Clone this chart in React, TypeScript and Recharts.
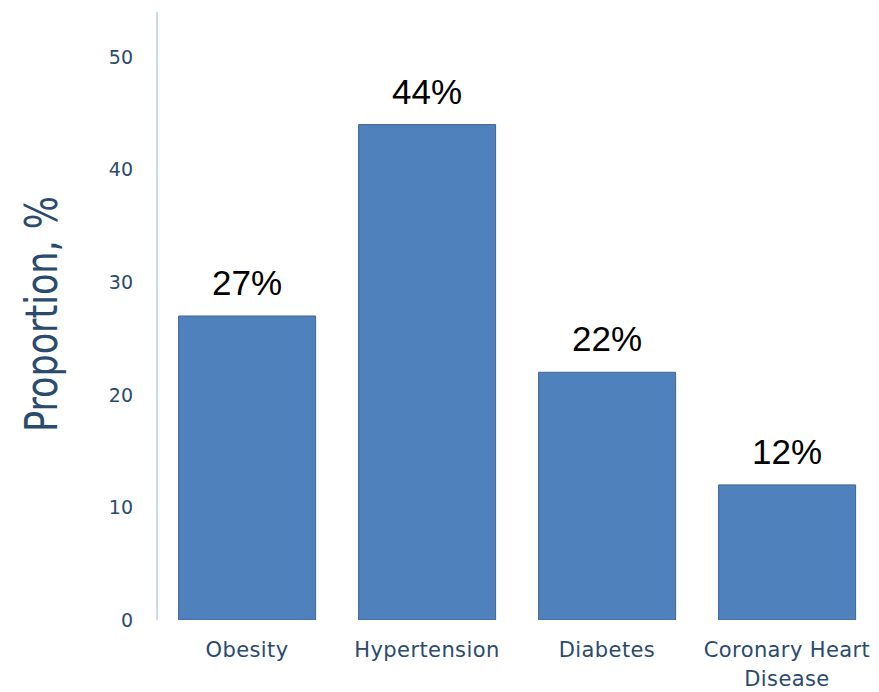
import React from "react";
import { BarChart, Bar, XAxis, YAxis, LabelList, Label } from "recharts";

// Prevalence of comorbidities (proportion of patients, %)
const categories = ["Obesity", "Hypertension", "Diabetes", "Coronary Heart Disease"];
const proportions = [27, 44, 22, 12];
// Category labels as they wrap under the bars
const categoryLabelLines = [["Obesity"], ["Hypertension"], ["Diabetes"], ["Coronary Heart", "Disease"]];
const yTicks = [0, 10, 20, 30, 40, 50];
const yDomain = [0, 54];

const data = categories.map((name, i) => ({ name, value: proportions[i] }));

const NAVY = "#2a4a6e";
const SANS = "'DejaVu Sans', 'Open Sans', sans-serif";
const ARIAL = "'Liberation Sans', Arial, sans-serif";

function CategoryTick(props: any) {
  const { x, y, payload } = props;
  const idx = categories.indexOf(payload.value);
  const lines = idx >= 0 ? categoryLabelLines[idx] : [String(payload.value)];
  return (
    <g>
      {lines.map((line, i) => (
        <text
          key={i}
          x={x}
          y={y + 37 + i * 29}
          textAnchor="middle"
          fill={NAVY}
          fontFamily={SANS}
          fontSize={21}
          letterSpacing={0.4}
        >
          {line}
        </text>
      ))}
    </g>
  );
}

function ValueLabel(props: any) {
  const { x, y, width, value } = props;
  return (
    <text
      x={x + width / 2}
      y={y - 21}
      textAnchor="middle"
      fill="#000"
      fontFamily={ARIAL}
      fontSize={35}
    >
      {`${value}%`}
    </text>
  );
}

function YTitle() {
  return (
    <text
      transform="translate(57, 314) rotate(-90) scale(1, 1.25)"
      textAnchor="middle"
      fill={NAVY}
      fontFamily={SANS}
      fontSize={35}
    >
      Proportion, %
    </text>
  );
}

export default function App() {
  return (
    <div style={{ position: "absolute", left: 0, top: 0, background: "#fff" }}>
      <BarChart
        width={879}
        height={692}
        data={data}
        margin={{ top: 12, right: 2, bottom: 0, left: 0 }}
        barCategoryGap="12%"
      >
        <XAxis
          dataKey="name"
          height={72}
          axisLine={false}
          tickLine={false}
          tickSize={0}
          tickMargin={0}
          interval={0}
          tick={<CategoryTick />}
        />
        <YAxis
          width={157}
          domain={yDomain}
          ticks={yTicks}
          allowDataOverflow
          axisLine={{ stroke: "#b7cfe9", strokeWidth: 1.5 }}
          tickLine={false}
          tickSize={0}
          tickMargin={24}
          tick={{ fill: NAVY, fontSize: 19, fontFamily: SANS }}
        >
          <Label content={<YTitle />} />
        </YAxis>
        <Bar
          dataKey="value"
          fill="#4f81bd"
          stroke="#3f6690"
          strokeWidth={1}
          isAnimationActive={false}
        >
          <LabelList dataKey="value" content={<ValueLabel />} />
        </Bar>
      </BarChart>
    </div>
  );
}
